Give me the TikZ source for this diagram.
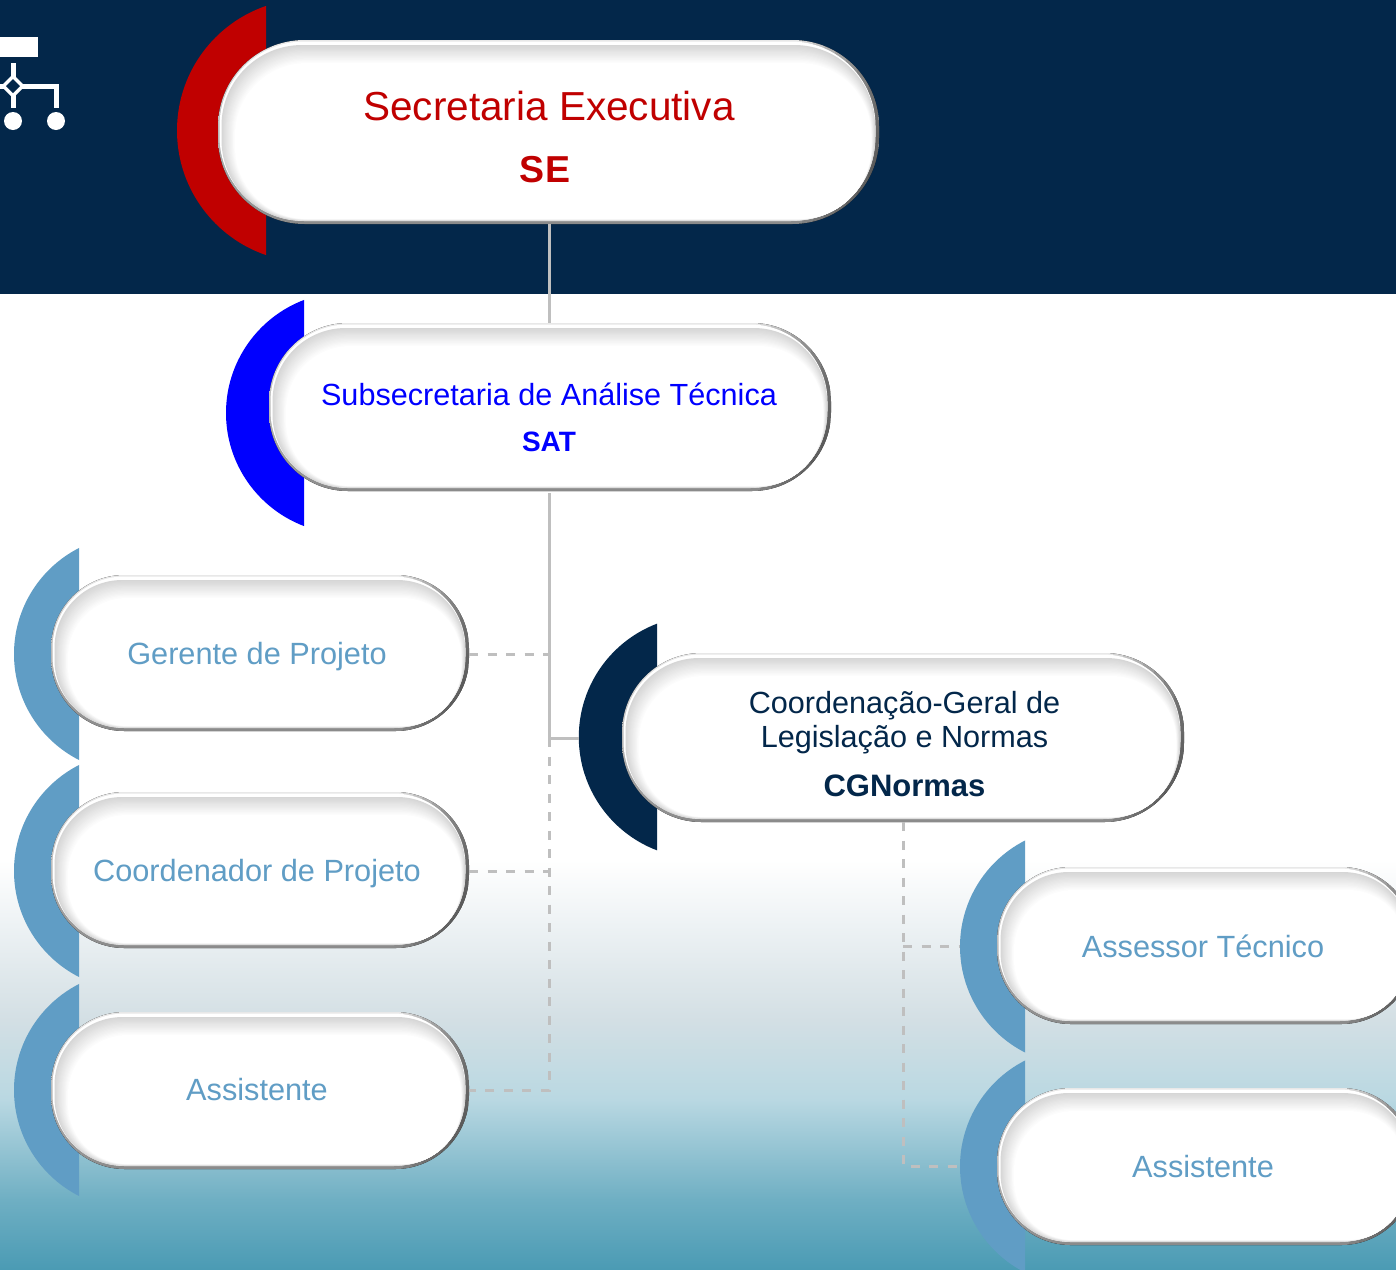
\documentclass[tikz,border=0pt]{standalone}
\usepackage{fontspec}
\setmainfont{Liberation Sans}
\definecolor{navy}{HTML}{03274A}
\definecolor{secred}{HTML}{C00000}
\definecolor{subblue}{HTML}{0000FF}
\definecolor{steel}{HTML}{609DC5}
\definecolor{conn}{HTML}{BFBFBF}
\definecolor{rimtop}{HTML}{E8E8E8}
\definecolor{rimbot}{HTML}{8A8A8A}
\newcommand{\fs}[1]{\fontsize{#1}{#1}\selectfont}
\newcommand{\pillshape}[4]{% L T R B
  \pgfmathsetmacro{\pw}{#3-#1}\pgfmathsetmacro{\ph}{#4-#2}
  \fill[top color=rimtop,bottom color=rimbot,rounded corners=0.47*\ph pt] (#1,#2) rectangle (#3,#4);
  \begin{scope}
    \clip[rounded corners=0.47*\ph pt] (#1,#2) rectangle (#3,#4);
    \foreach \k in {0,...,6}{
      \fill[black,opacity=0.08] ({#3-0.42*\ph+\k*0.06*\ph},#2) rectangle (#3,#4);
    }
  \end{scope}
  \fill[white,rounded corners=0.46*\ph pt] ({#1+1.5},{#2+1.5}) rectangle ({#3-3.5},{#4-3});
  \foreach \i in {0,...,15}{
    \pgfmathsetmacro{\gv}{16-\i*16/15}
    \pgfmathsetmacro{\il}{3.5+\i*0.9}
    \pgfmathsetmacro{\it}{5+\i*1.2}
    \pgfmathsetmacro{\ir}{4+\i*0.25}
    \pgfmathsetmacro{\ib}{3.5+\i*0.1}
    \pgfmathsetmacro{\rr}{0.46*(\ph-\it-\ib)}
    \fill[black!\gv!white,rounded corners=\rr pt] ({#1+\il},{#2+\it}) rectangle ({#3-\ir},{#4-\ib});
  }
}
\newcommand{\crescent}[5]{% clip x, centre x, centre y, radius, colour
  \begin{scope}
    \clip (0,0) rectangle (#1,1269);
    \fill[#5] (#2,#3) circle[radius=#4 pt];
  \end{scope}
}
\tikzset{
  x=1pt,y=-1pt,
  pillbox/.style={rectangle,inner sep=0pt,outer sep=0pt,minimum width=#1},
  solidconn/.style={draw=conn,line width=3pt},
  dashconn/.style={draw=conn,line width=3pt,dash pattern=on 9pt off 9.5pt},
  lbl/.style={align=center,inner sep=0pt,text=steel,font=\fs{30.7}},
  icon/.style={fill=white,draw=none}
}
\begin{document}
\begin{tikzpicture}
\clip (0,0) rectangle (1396,1269);
% background
\fill[navy] (0,0) rectangle (1396,294);
\fill[white] (0,294) rectangle (1396,860);
\definecolor{b0}{HTML}{FFFFFF}\definecolor{b1}{HTML}{D3DFE4}\definecolor{b2}{HTML}{B9D8E2}\definecolor{b3}{HTML}{6FAFC3}\definecolor{b4}{HTML}{4B9BB4}
\fill[top color=b0,bottom color=b1] (0,860) rectangle (1396,1020);
\fill[top color=b1,bottom color=b2] (0,1019.5) rectangle (1396,1100);
\fill[top color=b2,bottom color=b3] (0,1099.5) rectangle (1396,1200);
\fill[top color=b3,bottom color=b4] (0,1199.5) rectangle (1396,1269);
% icon
\fill[icon] (0,37) rectangle (37.5,57);
\fill[icon] (10.5,63) rectangle (15.5,108);
\fill[icon] (0,83.5) rectangle (59,88.5);
\fill[icon] (54,83.5) rectangle (59,108);
\fill[icon] (13,74) -- (25,86) -- (13,98) -- (1,86) -- cycle;
\fill[navy] (13,79) -- (20,86) -- (13,93) -- (6,86) -- cycle;
\fill[icon] (13,121) circle[radius=9pt];
\fill[icon] (56,121) circle[radius=9pt];
% crescents
\crescent{266}{308.6}{130.5}{131.6}{secred}
\crescent{304}{346.9}{413}{120.9}{subblue}
\crescent{79}{132.9}{654}{118.9}{steel}
\crescent{79}{132.9}{871}{118.9}{steel}
\crescent{79}{132.9}{1090}{118.9}{steel}
\crescent{657}{700}{737}{121.2}{navy}
\crescent{1025}{1078.9}{946.5}{118.9}{steel}
\crescent{1025}{1078.9}{1166.5}{118.9}{steel}
\coordinate (cgnArc) at (579,738);
\coordinate (assessorArc) at (960,946);
\coordinate (assist2Arc) at (960,1166);
% pills
\pillshape{218}{40}{879}{224}
\pillshape{269}{323}{831}{491}
\pillshape{51}{575}{469}{731}
\pillshape{51}{792}{469}{948}
\pillshape{51}{1012}{469}{1169}
\pillshape{622}{653}{1184}{822}
\pillshape{997}{867}{1415}{1024}
\pillshape{997}{1088}{1415}{1245}
% nodes
\node[pillbox=661pt,minimum height=184pt] (se) at (548.5,132) {};
\node[pillbox=562pt,minimum height=170pt] (sat) at (550,408) {};
\node[pillbox=562pt,minimum height=169pt] (cgn) at (903,737.5) {};
\node[pillbox=418pt,minimum height=156pt] (ger) at (260,654) {};
\node[pillbox=418pt,minimum height=156pt] (coo) at (260,871) {};
\node[pillbox=418pt,minimum height=157pt] (ast) at (260,1090) {};
% text
\node[inner sep=0pt,text=secred,font=\fs{40.5}] (seT1) at (549,106.5) {Secretaria Executiva};
\node[inner sep=0pt,text=secred,font=\fs{37.5}\bfseries] (seT2) at (545,170) {SE};
\node[inner sep=0pt,text=subblue,font=\fs{30.6}] (satT1) at (549,394) {Subsecretaria de Análise Técnica};
\node[inner sep=0pt,text=subblue,font=\fs{28}\bfseries] (satT2) at (549,442) {SAT};
\node[inner sep=0pt,text=navy,font=\fs{30.6}] (cgT1) at (904.5,706) {Coordenação-Geral de};
\node[inner sep=0pt,text=navy,font=\fs{30.6}] (cgT2) at (904.5,740) {Legislação e Normas};
\node[inner sep=0pt,text=navy,font=\fs{31}\bfseries] (cgT3) at (904.5,786) {CGNormas};
\node[lbl] (gerT) at (257,657) {Gerente de Projeto};
\node[lbl] (cooT) at (257,874) {Coordenador de Projeto};
\node[lbl] (astT) at (257,1090) {Assistente};
\node[lbl] (assT) at (1203,946) {Assessor Técnico};
\node[lbl] (as2T) at (1203,1167) {Assistente};
% connectors
\draw[solidconn] (se.south -| satT1.south) -- (sat.north -| satT1.south);
\draw[solidconn] (sat.south -| satT1.south) -- (cgnArc -| satT1.south) -- (cgnArc);
\draw[dashconn] (cgnArc -| satT1.south) -- (ast.east -| satT1.south) -- (ast.east);
\draw[dashconn] (ger.east) -- (ger.east -| satT1.south);
\draw[dashconn] (coo.east) -- (coo.east -| satT1.south);
\draw[dashconn] (cgn.south) -- (assist2Arc -| cgn.south) -- (assist2Arc);
\draw[dashconn] (assessorArc -| cgn.south) -- (assessorArc);
\end{tikzpicture}
\end{document}
